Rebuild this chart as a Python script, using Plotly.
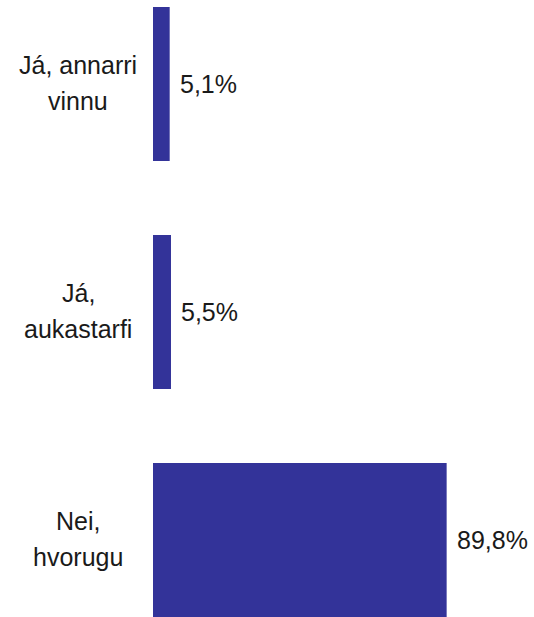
import plotly.graph_objects as go

# Survey answers and their shares (%)
categories = ["Já, annarri vinnu", "Já, aukastarfi", "Nei, hvorugu"]
category_lines = [["Já, annarri", "vinnu"], ["Já,", "aukastarfi"], ["Nei,", "hvorugu"]]
values = [5.1, 5.5, 89.8]
value_labels = ["5,1%", "5,5%", "89,8%"]

BAR_COLOR = "#333399"
TEXT_COLOR = "#1a1a1a"
FONT = "Liberation Sans, Arial, sans-serif"
FONT_SIZE = 25

W, H = 534, 617
# horizontal scale: zero line at 153 px, 3.27 px per percentage point
px_per_unit = 3.27
x0_px = 153
x_range = [-x0_px / px_per_unit, (W - x0_px) / px_per_unit]
# vertical scale: 228 px per category, first centred at 84 px
cat_px = 228
first_px = 84
y_top = -first_px / cat_px
y_bottom = (H - first_px) / cat_px

fig = go.Figure(
    go.Bar(
        x=values,
        y=list(range(len(categories))),
        orientation="h",
        width=0.675,
        marker=dict(color=BAR_COLOR, line=dict(width=0)),
        hovertext=categories,
        hoverinfo="text+x",
    )
)

font = dict(family=FONT, size=FONT_SIZE, color=TEXT_COLOR)
annotations = []
for i, (lines, val, vlab) in enumerate(zip(category_lines, values, value_labels)):
    # two-line category label, each line placed separately for wider leading
    for line, shift in zip(lines, (19, -17)):
        annotations.append(dict(
            x=78 / W, xref="paper", y=i, yref="y", yshift=shift,
            text=line, showarrow=False, xanchor="center", yanchor="middle",
            font=font,
        ))
    annotations.append(dict(
        x=val, xref="x", y=i, yref="y",
        text=vlab, showarrow=False, xanchor="left", yanchor="middle",
        xshift=8, font=font,
    ))

fig.update_layout(
    width=W, height=H,
    margin=dict(l=0, r=0, t=0, b=0),
    paper_bgcolor="white", plot_bgcolor="white",
    showlegend=False,
    xaxis=dict(range=x_range, visible=False, fixedrange=True),
    yaxis=dict(range=[y_bottom, y_top], visible=False, fixedrange=True),
    annotations=annotations,
)

fig.write_html("out.html")
